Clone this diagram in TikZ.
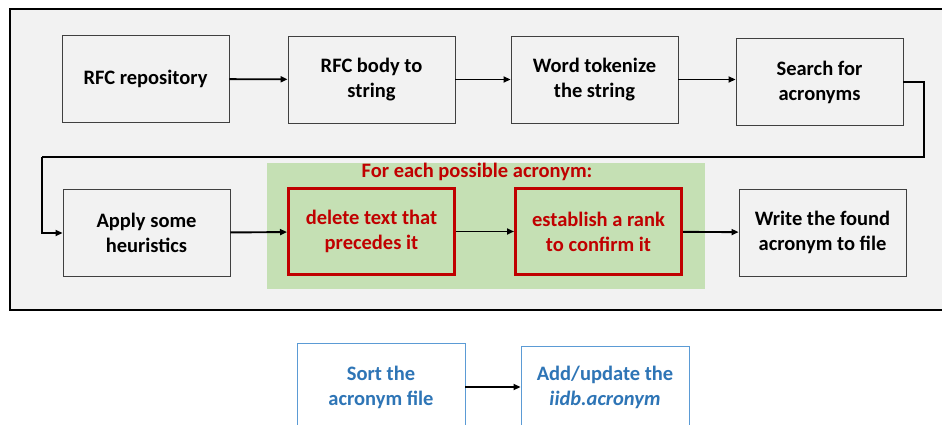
\documentclass[tikz,border=0pt]{standalone}
\usepackage{fontspec}
\setmainfont{Carlito}
\usetikzlibrary{arrows.meta}
\definecolor{bggray}{HTML}{F2F2F2}
\definecolor{boxline}{HTML}{404040}
\definecolor{greenbg}{HTML}{C5E0B4}
\definecolor{redc}{HTML}{C00000}
\definecolor{bluel}{HTML}{5B9BD5}
\definecolor{bluet}{HTML}{2E75B6}
\begin{document}
\begin{tikzpicture}[x=1pt,y=-1pt,
  txt/.style={align=center,font=\fontsize{20.5}{25}\selectfont\bfseries,inner sep=0pt},
  proc/.style={txt,draw=boxline,line width=0.9pt,fill=bggray,minimum width=167pt,minimum height=87pt,text=black},
  redbox/.style={txt,draw=redc,line width=3pt,fill=greenbg,minimum width=166pt,minimum height=86pt,text=redc},
  bluebox/.style={draw=bluel,line width=0.9pt,fill=white,minimum width=168pt,minimum height=100pt,inner sep=0pt},
  bluetext/.style={txt,text=bluet},
  conn/.style={line width=1.9pt,-{Triangle[length=7pt,width=6pt]}}]
\useasboundingbox (0,0) rectangle (942,425);
\fill[white] (0,0) rectangle (942,425);
\draw[line width=2.2pt,fill=bggray] (10,9) rectangle (960,310);
\fill[greenbg] (267,163) rectangle (705,289);
\node[txt,text=redc] (title) at (477,172) {For each possible acronym:};
\node[proc] (repo) at (145.5,79) {RFC repository};
\node[proc] (body) at (371.5,79.5) {RFC body to\\string};
\node[proc] (token) at (594.5,79.5) {Word tokenize\\the string};
\node[proc] (search) at (819.5,82) {Search for\\acronyms};
\node[proc] (apply) at (146.5,233) {Apply some\\heuristics};
\node[redbox] (delete) at (371.5,231.5) {delete text that\\precedes it};
\node[redbox] (rank) at (598.5,231.5) {establish a rank\\to confirm it};
\node[proc] (write) at (822.5,232.5) {Write the found\\acronym to file};
\node[bluebox,label={[bluetext,yshift=6pt]center:{Sort the\\acronym file}}] (sort) at (381,393) {};
\node[bluebox,label={[bluetext,yshift=9pt]center:{Add/update the\\\textit{iidb.acronym}}}] (add) at (605,396) {};
\coordinate (c1) at (924,157);
\coordinate (c2) at (42,157);
\draw[conn] (repo) -- (body);
\draw[conn] (body.east|-token.west) -- (token.west);
\draw[conn] (token) -- (search.west|-token);
\draw[line width=1.9pt] (search.east) -| (c1) -- (c2);
\draw[conn] (c2) |- (apply.west);
\draw[conn] (apply) -- (delete);
\draw[conn] (delete) -- (rank);
\draw[conn] (rank) -- (write);
\draw[conn] (sort.east|-0,387) -- (add.west|-0,387);
\end{tikzpicture}
\end{document}
